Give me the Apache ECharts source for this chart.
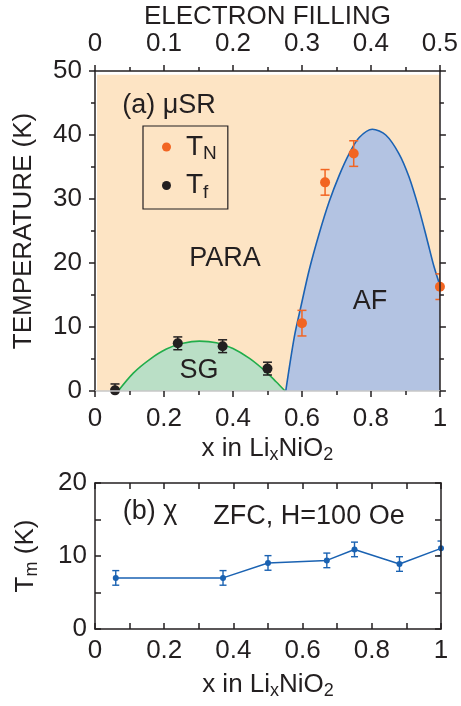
<!DOCTYPE html>
<html>
<head>
<meta charset="utf-8">
<script src="https://cdn.jsdelivr.net/npm/echarts@6/dist/echarts.min.js"></script>
<style>
  html, body { margin: 0; padding: 0; background: #fff; }
  #chart { width: 461px; height: 706px; }
</style>
</head>
<body>
<div id="chart"></div>
<script>
// (a) muSR: Neel temperature and freezing temperature
const tnX = [0.6, 0.667, 0.75, 1.0];
const tnY = [10.6, 32.6, 37.1, 16.3];
const tnErr = [2, 2, 2, 2];
const tfX = [0.058, 0.24, 0.37, 0.5];
const tfY = [0.1, 7.45, 7.0, 3.5];
const tfErr = [1, 1, 1, 1];

// phase boundaries
const afBoundary = [
  [0.553, 0], [0.578, 8.5], [0.597, 13.2], [0.621, 18.9], [0.65, 24.6],
  [0.679, 29.6], [0.708, 33.7], [0.737, 37.1], [0.766, 39.6], [0.804, 40.9],
  [0.843, 40.0], [0.881, 37.1], [0.91, 33.5], [0.939, 28.5], [0.963, 23.6],
  [0.983, 19.4], [1.0, 16.5]
];
const sgBoundary = [
  [0.067, 0], [0.111, 2.8], [0.159, 4.95], [0.207, 6.55], [0.255, 7.45],
  [0.303, 7.8], [0.352, 7.55], [0.4, 6.65], [0.448, 5.1], [0.496, 3.0],
  [0.525, 1.45], [0.551, 0]
];

// (b) chi: Tm from ZFC susceptibility
const tmX = [0.06, 0.37, 0.5, 0.67, 0.75, 0.88, 1.0];
const tmY = [7.0, 7.0, 9.05, 9.4, 10.9, 8.9, 11.05];
const tmErr = [1, 1, 1, 1, 1, 1, 1];

// axis ranges
const xRange = [0, 1];
const fillingRange = [0, 0.5];
const tempRange = [0, 50];
const tmRange = [0, 20];

const FONT = 'Liberation Sans, Arial, sans-serif';
const INK = '#231f20';
const ORANGE = '#f26522';
const BLUE = '#1a62b2';

const chart = echarts.init(document.getElementById('chart'), null, { renderer: 'canvas' });

function errorBars(xs, ys, errs, color, cap, lw, xi, yi) {
  return {
    type: 'custom',
    xAxisIndex: xi, yAxisIndex: yi,
    z: 4, silent: true, clip: true,
    data: xs.map((x, i) => [x, ys[i] - errs[i], ys[i] + errs[i]]),
    renderItem: (params, api) => {
      const lo = api.coord([api.value(0), api.value(1)]);
      const hi = api.coord([api.value(0), api.value(2)]);
      const st = { stroke: color, lineWidth: lw };
      return {
        type: 'group',
        children: [
          { type: 'line', shape: { x1: lo[0], y1: lo[1], x2: hi[0], y2: hi[1] }, style: st },
          { type: 'line', shape: { x1: lo[0] - cap, y1: lo[1], x2: lo[0] + cap, y2: lo[1] }, style: st },
          { type: 'line', shape: { x1: hi[0] - cap, y1: hi[1], x2: hi[0] + cap, y2: hi[1] }, style: st }
        ]
      };
    }
  };
}

const tickLabel = { fontFamily: FONT, fontSize: 26, color: INK };
const subRich = {
  m: { fontFamily: FONT, fontSize: 26, color: INK },
  s: { fontFamily: FONT, fontSize: 18, color: INK, padding: [12, 0, 0, 0] }
};
const LW = 1.5;
const inTick = { show: true, inside: true, length: 6, lineStyle: { color: INK, width: LW } };
const inMinor = { show: true, splitNumber: 2, length: 6, lineStyle: { color: INK, width: LW } };
const outTick = { show: true, inside: false, length: 6, lineStyle: { color: INK, width: LW } };
const outMinor = { show: true, splitNumber: 2, length: 4, lineStyle: { color: INK, width: LW } };

function axisBase(extra) {
  return Object.assign({
    type: 'value', z: 10,
    splitLine: { show: false },
    axisLine: { show: true, onZero: false, lineStyle: { color: INK, width: LW } },
    axisLabel: Object.assign({}, tickLabel),
    axisTick: outTick,
    minorTick: outMinor
  }, extra);
}

function note(x, y, text) {
  return {
    type: 'text', z: 100,
    style: { x, y, text, font: '27px ' + FONT, fill: INK, textAlign: 'center', textVerticalAlign: 'middle' }
  };
}

const option = {
  animation: false,
  backgroundColor: '#fff',
  grid: [
    { left: 95, top: 71, width: 346, height: 320 },
    { left: 95, top: 483, width: 346, height: 146 }
  ],
  xAxis: [
    axisBase({
      gridIndex: 0, position: 'bottom', min: xRange[0], max: xRange[1], interval: 0.2,
      axisLine: { show: true, onZero: false, lineStyle: { color: '#c8c8c8', width: LW } },
      axisLabel: Object.assign({}, tickLabel, { margin: 15 }),
      name: '{m|x in Li}{s|x}{m|NiO}{s|2}', nameLocation: 'middle', nameGap: 43,
      nameTextStyle: { rich: subRich }
    }),
    axisBase({
      gridIndex: 0, position: 'top', min: fillingRange[0], max: fillingRange[1], interval: 0.1,
      axisLabel: Object.assign({}, tickLabel, { margin: 14 }),
      name: 'ELECTRON FILLING', nameLocation: 'middle', nameGap: 40,
      nameTextStyle: { fontFamily: FONT, fontSize: 26, color: INK }
    }),
    axisBase({
      gridIndex: 1, position: 'bottom', min: xRange[0], max: xRange[1], interval: 0.2,
      axisTick: inTick, minorTick: inMinor,
      axisLabel: Object.assign({}, tickLabel, { margin: 9 }),
      name: '{m|x in Li}{s|x}{m|NiO}{s|2}', nameLocation: 'middle', nameGap: 41,
      nameTextStyle: { rich: subRich }
    }),
    axisBase({
      gridIndex: 1, position: 'top', min: xRange[0], max: xRange[1], interval: 0.2,
      axisLabel: { show: false }, axisTick: inTick, minorTick: inMinor
    })
  ],
  yAxis: [
    axisBase({
      gridIndex: 0, position: 'left', min: tempRange[0], max: tempRange[1], interval: 10,
      axisLabel: Object.assign({}, tickLabel, { margin: 13 }),
      name: 'TEMPERATURE (K)', nameLocation: 'middle', nameGap: 58,
      nameTextStyle: { fontFamily: FONT, fontSize: 26, color: INK }
    }),
    axisBase({
      gridIndex: 0, position: 'right', min: tempRange[0], max: tempRange[1], interval: 10,
      axisLabel: { show: false }
    }),
    axisBase({
      gridIndex: 1, position: 'left', min: tmRange[0], max: tmRange[1], interval: 10,
      axisTick: inTick, minorTick: inMinor,
      axisLabel: Object.assign({}, tickLabel, { margin: 8 }),
      name: '{m|T}{s|m}{m| (K)}', nameLocation: 'middle', nameGap: 54,
      nameTextStyle: { rich: subRich }
    }),
    axisBase({
      gridIndex: 1, position: 'right', min: tmRange[0], max: tmRange[1], interval: 10,
      axisLabel: { show: false }, axisTick: inTick, minorTick: inMinor
    })
  ],
  legend: {
    orient: 'vertical', left: 143, top: 126,
    padding: [7, 11, 7, 19], itemGap: 8,
    itemWidth: 9, itemHeight: 9,
    borderColor: INK, borderWidth: 1.2,
    selectedMode: false,
    data: [{ name: 'TN', icon: 'circle' }, { name: 'Tf', icon: 'circle' }],
    formatter: name => name === 'TN' ? '{t|T}{s|N}' : '{t|T}{s|f}',
    textStyle: {
      padding: [0, 0, 0, 10],
      rich: {
        t: { fontFamily: FONT, fontSize: 28, color: INK },
        s: { fontFamily: FONT, fontSize: 19, color: INK, padding: [14, 0, 0, 0] }
      }
    }
  },
  graphic: [
    note(169, 106, '(a) μSR'),
    note(225, 259, 'PARA'),
    note(370, 302, 'AF'),
    note(199, 371, 'SG'),
    note(150, 512, '(b) χ'),
    note(309, 517, 'ZFC, H=100 Oe')
  ],
  series: [
    {
      // paramagnetic background
      type: 'line', xAxisIndex: 0, yAxisIndex: 0, z: 1, silent: true,
      data: [],
      markArea: {
        silent: true,
        itemStyle: { color: '#fde4c4' },
        data: [[{ xAxis: 0.006, yAxis: 0 }, { xAxis: 1, yAxis: 49.4 }]]
      }
    },
    {
      name: 'AF', type: 'line', xAxisIndex: 0, yAxisIndex: 0, z: 2,
      data: afBoundary, smooth: 0.3, symbol: 'none',
      lineStyle: { color: '#1b62b3', width: 1.6 },
      areaStyle: { color: '#b3c3e2', opacity: 1 }
    },
    {
      name: 'SG', type: 'line', xAxisIndex: 0, yAxisIndex: 0, z: 2,
      data: sgBoundary, smooth: 0.3, symbol: 'none',
      lineStyle: { color: '#21ad4b', width: 1.6 },
      areaStyle: { color: '#badfc6', opacity: 1 }
    },
    errorBars(tnX, tnY, tnErr, ORANGE, 4.5, 1.5, 0, 0),
    {
      name: 'TN', type: 'scatter', xAxisIndex: 0, yAxisIndex: 0, z: 5,
      data: tnX.map((x, i) => [x, tnY[i]]),
      symbol: 'circle', symbolSize: 10, itemStyle: { color: ORANGE, opacity: 1 }
    },
    errorBars(tfX, tfY, tfErr, INK, 4.5, 1.5, 0, 0),
    {
      name: 'Tf', type: 'scatter', xAxisIndex: 0, yAxisIndex: 0, z: 5,
      data: tfX.map((x, i) => [x, tfY[i]]),
      symbol: 'circle', symbolSize: 10, itemStyle: { color: INK, opacity: 1 }
    },
    errorBars(tmX, tmY, tmErr, BLUE, 3.5, 1.4, 2, 2),
    {
      name: 'Tm', type: 'line', xAxisIndex: 2, yAxisIndex: 2, z: 5,
      data: tmX.map((x, i) => [x, tmY[i]]),
      symbol: 'circle', symbolSize: 6, showSymbol: true,
      lineStyle: { color: BLUE, width: 1.5 },
      itemStyle: { color: BLUE }
    }
  ]
};

chart.setOption(option);
</script>
</body>
</html>
